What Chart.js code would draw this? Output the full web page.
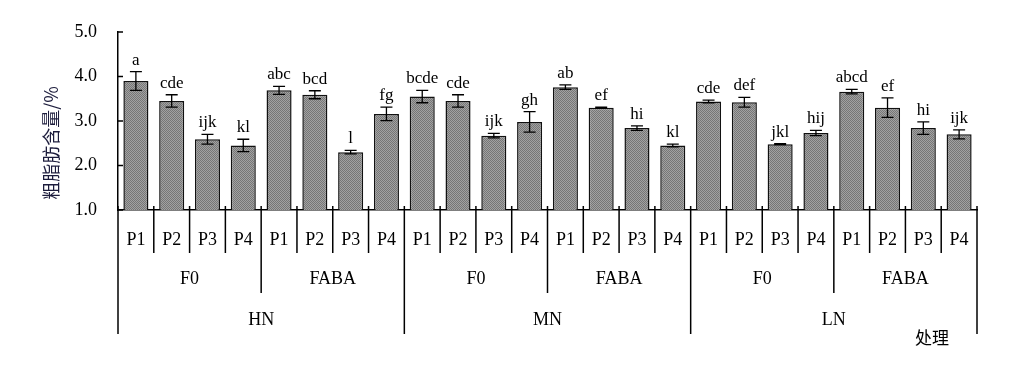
<!DOCTYPE html>
<html>
<head>
<meta charset="utf-8">
<script src="https://cdn.jsdelivr.net/npm/chart.js@4/dist/chart.umd.min.js"></script>
<style>
  html, body { margin: 0; padding: 0; background: #fff; }
  #wrap { width: 1017px; height: 373px; position: relative; }
</style>
</head>
<body>
<div id="wrap"><canvas id="fat"></canvas></div>
<script>
// data
var levelN    = ['HN', 'MN', 'LN'];
var levelF    = ['F0', 'FABA'];
var levelP    = ['P1', 'P2', 'P3', 'P4'];
var fatValues = [3.90, 3.45, 2.59, 2.45, 3.69, 3.59, 2.30, 3.16,
                 3.55, 3.45, 2.67, 2.98, 3.76, 3.30, 2.84, 2.45,
                 3.44, 3.42, 2.48, 2.73, 3.66, 3.30, 2.84, 2.70];
var fatErrors = [0.21, 0.14, 0.11, 0.14, 0.09, 0.09, 0.04, 0.15,
                 0.14, 0.14, 0.05, 0.23, 0.05, 0.01, 0.05, 0.03,
                 0.03, 0.11, 0.01, 0.06, 0.05, 0.22, 0.14, 0.10];
var sigLetters = ['a', 'cde', 'ijk', 'kl', 'abc', 'bcd', 'l', 'fg',
                  'bcde', 'cde', 'ijk', 'gh', 'ab', 'ef', 'hi', 'kl',
                  'cde', 'def', 'jkl', 'hij', 'abcd', 'ef', 'hi', 'ijk'];
var yTicks = [1, 2, 3, 4, 5];

var serif = '"Liberation Serif", "Times New Roman", serif';
var cjk   = '"Noto Sans CJK SC", sans-serif';

var labels = [];
levelN.forEach(function () {
    levelF.forEach(function () {
        levelP.forEach(function (p) { labels.push(p); });
    });
});

function makePattern() {
    var c = document.createElement('canvas');
    c.width = 2; c.height = 2;
    var g = c.getContext('2d');
    g.fillStyle = '#a2a2a2'; g.fillRect(0, 0, 2, 2);
    g.fillStyle = '#767676'; g.fillRect(0, 0, 1, 1); g.fillRect(1, 1, 1, 1);
    return g.createPattern(c, 'repeat');
}

var decorations = {
    id: 'decorations',
    afterDatasetsDraw: function (chart) {
        var ctx = chart.ctx;
        var xs = chart.scales.x, ys = chart.scales.y;
        var area = chart.chartArea;
        var meta = chart.getDatasetMeta(0);
        ctx.save();

        // error bars + letters
        ctx.strokeStyle = '#000';
        ctx.lineWidth = 1.3;
        ctx.fillStyle = '#000';
        ctx.font = '17px ' + serif;
        ctx.textAlign = 'center';
        ctx.textBaseline = 'alphabetic';
        meta.data.forEach(function (bar, i) {
            var top = ys.getPixelForValue(fatValues[i] + fatErrors[i]);
            var bot = ys.getPixelForValue(fatValues[i] - fatErrors[i]);
            var cap = 6;
            ctx.beginPath();
            ctx.moveTo(bar.x, top); ctx.lineTo(bar.x, bot);
            ctx.moveTo(bar.x - cap, top); ctx.lineTo(bar.x + cap, top);
            ctx.moveTo(bar.x - cap, bot); ctx.lineTo(bar.x + cap, bot);
            ctx.stroke();
            ctx.fillText(sigLetters[i], bar.x, top - 7);
        });

        // inward y ticks
        ctx.lineWidth = 1.5;
        yTicks.forEach(function (v) {
            var y = ys.getPixelForValue(v);
            ctx.beginPath();
            ctx.moveTo(area.left, y); ctx.lineTo(area.left + 5, y);
            ctx.stroke();
        });

        // x boundaries: small ticks above the axis and dividers below
        var half = (xs.getPixelForValue(1) - xs.getPixelForValue(0)) / 2;
        var base = area.bottom;
        for (var k = 0; k <= labels.length; k++) {
            var x = k < labels.length ? xs.getPixelForValue(k) - half
                                      : xs.getPixelForValue(k - 1) + half;
            var depth = 43;
            if (k % 4 === 0) depth = 83;
            if (k % 8 === 0) depth = 124;
            ctx.beginPath();
            ctx.moveTo(x, base - 4); ctx.lineTo(x, base + depth);
            ctx.stroke();
        }

        // group labels
        ctx.textBaseline = 'middle';
        ctx.font = '18px ' + serif;
        for (var g = 0; g < labels.length / 4; g++) {
            var cx = (xs.getPixelForValue(g * 4) + xs.getPixelForValue(g * 4 + 3)) / 2;
            ctx.fillText(levelF[g % 2], cx, base + 69);
        }
        for (var n = 0; n < levelN.length; n++) {
            var nx = (xs.getPixelForValue(n * 8) + xs.getPixelForValue(n * 8 + 7)) / 2;
            ctx.fillText(levelN[n], nx, base + 110);
        }
        ctx.font = '17px ' + cjk;
        ctx.fillText('处理', area.right - 45, base + 128);

        // y title
        ctx.translate(51, (area.top + area.bottom) / 2 + 22);
        ctx.rotate(-Math.PI / 2);
        ctx.fillStyle = '#1c1c3c';
        ctx.font = '18px ' + cjk;
        ctx.fillText('粗脂肪含量/%', 0, 0);
        ctx.restore();
    }
};

new Chart(document.getElementById('fat'), {
    type: 'bar',
    data: {
        labels: labels,
        datasets: [{
            data: fatValues,
            backgroundColor: makePattern(),
            borderColor: '#111',
            borderWidth: 1.5,
            categoryPercentage: 1,
            barPercentage: 0.7
        }]
    },
    options: {
        responsive: true,
        maintainAspectRatio: false,
        animation: false,
        devicePixelRatio: 1,
        layout: { padding: { left: 0, right: 40, top: 32, bottom: 0 } },
        plugins: { legend: { display: false }, tooltip: { enabled: false } },
        scales: {
            x: {
                grid: { display: false, drawTicks: false },
                border: { display: true, color: '#000', width: 1.5 },
                ticks: {
                    color: '#000', font: { family: serif, size: 18 },
                    padding: 19, maxRotation: 0, autoSkip: false
                },
                afterFit: function (s) { s.height = 163; }
            },
            y: {
                min: 1, max: 5,
                grid: { display: false, drawTicks: false },
                border: { display: true, color: '#000', width: 1.5 },
                ticks: {
                    stepSize: 1, color: '#000', padding: 21,
                    font: { family: serif, size: 18 },
                    callback: function (v) { return v.toFixed(1); }
                },
                afterFit: function (s) { s.width = 118; }
            }
        }
    },
    plugins: [decorations]
});
</script>
</body>
</html>
